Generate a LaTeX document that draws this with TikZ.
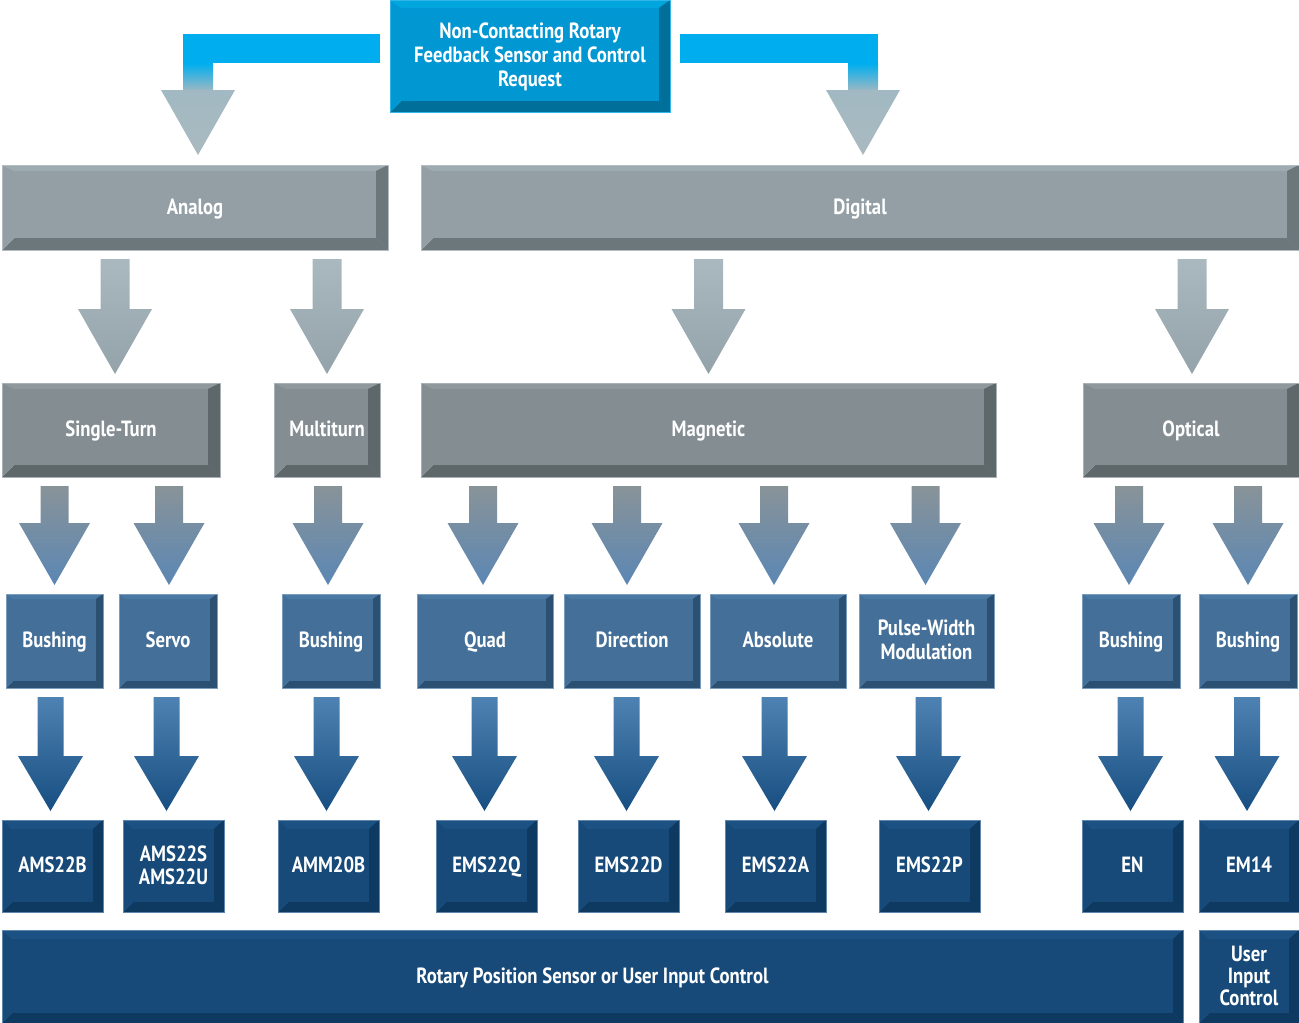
\documentclass[tikz,border=0pt]{standalone}
\usepackage{fontspec}
\setmainfont{PT Sans}[FakeStretch=0.85]
\usetikzlibrary{calc}

\definecolor{skymain}{HTML}{0097D3}
\definecolor{skylight}{HTML}{00A6DE}
\definecolor{skydark}{HTML}{006F99}
\definecolor{skyedge}{HTML}{33B5E5}
\definecolor{skybar}{HTML}{00AEEF}
\definecolor{greymain}{HTML}{939FA5}
\definecolor{greylight}{HTML}{9EABB1}
\definecolor{greydark}{HTML}{6B777B}
\definecolor{greyedge}{HTML}{B3BDC1}
\definecolor{slatemain}{HTML}{838D92}
\definecolor{slatelight}{HTML}{8E989D}
\definecolor{slatedark}{HTML}{5E686B}
\definecolor{slateedge}{HTML}{A8B1B5}
\definecolor{bluemain}{HTML}{436F98}
\definecolor{bluelight}{HTML}{4A79A4}
\definecolor{bluedark}{HTML}{2C5071}
\definecolor{blueedge}{HTML}{7A9CBD}
\definecolor{navymain}{HTML}{174A78}
\definecolor{navylight}{HTML}{1C5183}
\definecolor{navydark}{HTML}{0E3A61}
\definecolor{navyedge}{HTML}{5F85AA}
\definecolor{arrowpale}{HTML}{AAB9C0}
\definecolor{arrowgrey}{HTML}{94A3A9}
\definecolor{arrowmid}{HTML}{5B87B4}
\definecolor{arrowtop}{HTML}{4E82B2}
\definecolor{arrowcentre}{HTML}{3A6FA1}
\definecolor{arrowdeep}{HTML}{174E81}

\tikzset{
  box/.style={draw, line width=0.5pt, inner sep=0pt, outer sep=0pt,
    anchor=north west, align=center, text=white, text height=15pt, text depth=2pt,
    font=\fontsize{22}{24}\selectfont\bfseries},
  twolines/.style={text height=39pt},
  threelines/.style={text height=63pt},
  sz/.style 2 args={minimum width=#1pt, minimum height=#2pt},
  bev/.style n args={4}{path picture={
    \path (path picture bounding box.north west) coordinate (pa)
          (path picture bounding box.south east) coordinate (pb);
    \fill[#1] (pa) -- (pa -| pb) -- ([shift={(-#4pt,-#3pt)}]pa -| pb)
      -- ([shift={(#4pt,-#3pt)}]pa) -- cycle;
    \fill[#2] (pb) -- (pa -| pb) -- ([shift={(-#4pt,-#3pt)}]pa -| pb)
      -- ([shift={(-#4pt,#4pt)}]pb) -- cycle;
    \fill[#2] (pb) -- (pb -| pa) -- ([shift={(#4pt,#4pt)}]pb -| pa)
      -- ([shift={(-#4pt,#4pt)}]pb) -- cycle;
    \draw[#1, line width=0.4pt] (pa) -- ([shift={(#4pt,-#3pt)}]pa)
      (pb -| pa) -- ([shift={(#4pt,#4pt)}]pb -| pa);}},
  skybox/.style={box, fill=skymain, draw=skyedge, bev={skylight}{skydark}{8}{11}},
  greybox/.style={box, fill=greymain, draw=greyedge, bev={greylight}{greydark}{6}{12}},
  slatebox/.style={box, fill=slatemain, draw=slateedge, bev={slatelight}{slatedark}{6}{12}},
  bluebox/.style={box, fill=bluemain, draw=blueedge, bev={bluelight}{bluedark}{5}{7}},
  navybox/.style={box, fill=navymain, draw=navyedge, bev={navylight}{navydark}{9}{10}},
  greyarrow/.style={top color=arrowpale, bottom color=arrowgrey},
  mixarrow/.style={top color=slatemain!80!greylight, bottom color=arrowmid},
  bluearrow/.style={top color=arrowtop, middle color=arrowcentre, bottom color=arrowdeep},
}

% block arrow: colours, from, to, x shift, half stem, half head, head length
\newcommand\droparrow[7]{%
  \path[#1] let \p1=(#2.south), \p2=(#3.north) in
    (\x2+#4pt-#5pt,\y1-9pt) -- (\x2+#4pt+#5pt,\y1-9pt)
    -- (\x2+#4pt+#5pt,\y2+9pt+#7pt) -- (\x2+#4pt+#6pt,\y2+9pt+#7pt)
    -- (\x2+#4pt,\y2+9pt) -- (\x2+#4pt-#6pt,\y2+9pt+#7pt)
    -- (\x2+#4pt-#5pt,\y2+9pt+#7pt) -- cycle;}

\begin{document}
\begin{tikzpicture}[x=1pt, y=-1pt]
    \useasboundingbox (0,0) rectangle (1299,1023);

    % Draw the request box
    \node[skybox, threelines, sz={280}{112}] (request) at (390,0)
        {Non-Contacting Rotary\\Feedback Sensor and Control\\Request};

    % Draw the analog and digital boxes
    \node[greybox, sz={386}{85}] (analog) at (2,165) {Analog};
    \node[greybox, sz={878}{85}] (digital) at (421,165) {Digital};

    % Draw the bent arrows from the request box
    \fill[skybar] let \p1=(request.west), \p2=(analog.north) in
        (\x1-10pt,\y1+22pt) rectangle (\x2+3pt-15pt,\y1-7pt);
    \path[top color=skybar, bottom color=arrowpale!90!skybar]
        let \p1=(request.west), \p2=(analog.north) in
        (\x2+3pt-15pt,\y1-7.5pt) rectangle (\x2+3pt+15pt,\y2+75pt);
    \path[top color=arrowpale!95!skybar, bottom color=arrowpale]
        let \p2=(analog.north) in
        (\x2+3pt-37pt,\y2+75pt) -- (\x2+3pt+37pt,\y2+75pt) -- (\x2+3pt,\y2+10pt) -- cycle;
    \fill[skybar] let \p1=(request.east), \p2=(digital.north) in
        (\x1+10pt,\y1+22pt) rectangle (\x2+3pt+15pt,\y1-7pt);
    \path[top color=skybar, bottom color=arrowpale!90!skybar]
        let \p1=(request.east), \p2=(digital.north) in
        (\x2+3pt-15pt,\y1-7.5pt) rectangle (\x2+3pt+15pt,\y2+75pt);
    \path[top color=arrowpale!95!skybar, bottom color=arrowpale]
        let \p2=(digital.north) in
        (\x2+3pt-37pt,\y2+75pt) -- (\x2+3pt+37pt,\y2+75pt) -- (\x2+3pt,\y2+10pt) -- cycle;

    % Draw the sensor type boxes
    \node[slatebox, sz={218}{94}] (single) at (2,383) {Single-Turn};
    \node[slatebox, sz={106}{94}] (multi) at (274,383) {Multiturn};
    \node[slatebox, sz={575}{94}] (magnetic) at (421,383) {Magnetic};
    \node[slatebox, sz={216}{94}] (optical) at (1083,383) {Optical};

    \droparrow{greyarrow}{analog}{single}{4}{14.5}{37}{65}
    \droparrow{greyarrow}{analog}{multi}{0}{14.5}{37}{65}
    \droparrow{greyarrow}{digital}{magnetic}{0}{14.5}{37}{65}
    \droparrow{greyarrow}{digital}{optical}{1}{14.5}{37}{65}

    % Draw the option boxes
    \node[bluebox, sz={97}{94}] (bush1) at (6,594) {Bushing};
    \node[bluebox, sz={98}{94}] (servo) at (119,594) {Servo};
    \node[bluebox, sz={98}{94}] (bush2) at (282,594) {Bushing};
    \node[bluebox, sz={136}{94}] (quad) at (417,594) {Quad};
    \node[bluebox, sz={136}{94}] (dir) at (564,594) {Direction};
    \node[bluebox, sz={136}{94}] (abs) at (710,594) {Absolute};
    \node[bluebox, twolines, sz={135}{94}] (pwm) at (859,594) {Pulse-Width\\Modulation};
    \node[bluebox, sz={98}{94}] (bush3) at (1082,594) {Bushing};
    \node[bluebox, sz={98}{94}] (bush4) at (1199,594) {Bushing};

    \droparrow{mixarrow}{single}{bush1}{0}{14}{35.5}{62}
    \droparrow{mixarrow}{single}{servo}{1}{14}{35.5}{62}
    \droparrow{mixarrow}{multi}{bush2}{-3}{14}{35.5}{62}
    \droparrow{mixarrow}{magnetic}{quad}{-2}{14}{35.5}{62}
    \droparrow{mixarrow}{magnetic}{dir}{-5}{14}{35.5}{62}
    \droparrow{mixarrow}{magnetic}{abs}{-4}{14}{35.5}{62}
    \droparrow{mixarrow}{magnetic}{pwm}{-1}{14}{35.5}{62}
    \droparrow{mixarrow}{optical}{bush3}{-2}{14}{35.5}{62}
    \droparrow{mixarrow}{optical}{bush4}{0}{14}{35.5}{62}

    % Draw the part number boxes
    \node[navybox, sz={101}{92}] (ams22b) at (2,820) {AMS22B};
    \node[navybox, twolines, sz={101}{92}, font=\fontsize{22}{23}\selectfont\bfseries,
        text height=38pt] (ams22s) at (123,820) {AMS22S\\AMS22U};
    \node[navybox, sz={101}{92}] (amm20b) at (278,820) {AMM20B};
    \node[navybox, sz={101}{92}] (ems22q) at (436,820) {EMS22Q};
    \node[navybox, sz={101}{92}] (ems22d) at (578,820) {EMS22D};
    \node[navybox, sz={101}{92}] (ems22a) at (725,820) {EMS22A};
    \node[navybox, sz={101}{92}] (ems22p) at (879,820) {EMS22P};
    \node[navybox, sz={101}{92}] (en) at (1082,820) {EN};
    \node[navybox, sz={100}{92}] (em14) at (1199,820) {EM14};

    \droparrow{bluearrow}{bush1}{ams22b}{-2}{13}{32.5}{55}
    \droparrow{bluearrow}{servo}{ams22s}{-7}{13}{32.5}{55}
    \droparrow{bluearrow}{bush2}{amm20b}{-2}{13}{32.5}{55}
    \droparrow{bluearrow}{quad}{ems22q}{-2}{13}{32.5}{55}
    \droparrow{bluearrow}{dir}{ems22d}{-2}{13}{32.5}{55}
    \droparrow{bluearrow}{abs}{ems22a}{-1}{13}{32.5}{55}
    \droparrow{bluearrow}{pwm}{ems22p}{-1}{13}{32.5}{55}
    \droparrow{bluearrow}{bush3}{en}{-2}{13}{32.5}{55}
    \droparrow{bluearrow}{bush4}{em14}{-2}{13}{32.5}{55}

    % Draw the bottom boxes
    \node[navybox, sz={1181}{93}] (rotary) at (2,930) {Rotary Position Sensor or User Input Control};
    \node[navybox, sz={100}{93}, font=\fontsize{22}{22}\selectfont\bfseries,
        text height=59pt] (user) at (1199,930) {User\\Input\\Control};
\end{tikzpicture}
\end{document}
